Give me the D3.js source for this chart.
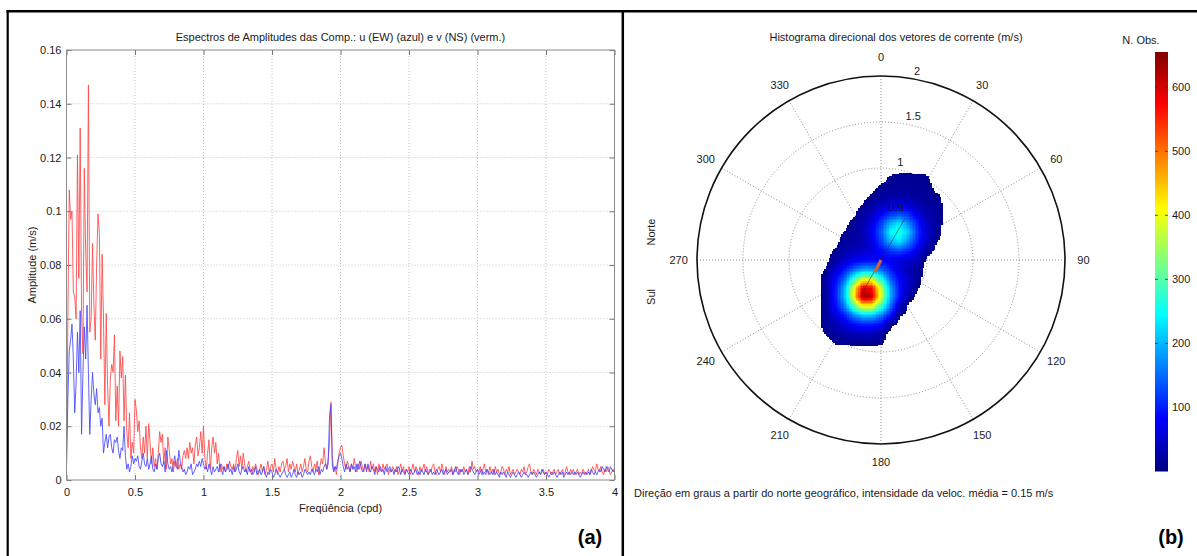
<!DOCTYPE html>
<html>
<head>
<meta charset="utf-8">
<script src="https://cdn.jsdelivr.net/npm/d3@7"></script>
<style>
  body { margin: 0; background: #fff; }
  svg { display: block; font-family: Arial, "Liberation Sans", Helvetica, sans-serif; }
</style>
</head>
<body>
<svg id="fig" width="1197" height="556"></svg>
<script>
// ---------- (a) amplitude spectra, 0.01 cpd resolution, amplitudes in mm/s ----------
const freqStep = 0.01;
const ampU = [ // u (EW) component, blue
  5, 30, 48, 52, 58, 45, 25, 36, 55, 40,
  63, 17, 40, 57, 45, 65, 40, 17, 30, 40,
  32, 28, 34, 25, 27, 20, 23, 10, 14, 17,
  12, 16, 17, 12, 10, 15, 14, 16, 11, 8,
  12, 11, 20, 9, 4, 6, 3, 5, 9, 6,
  8, 7, 9, 5, 4, 7, 10, 6, 5, 8,
  4, 6, 9, 4, 3, 6, 4, 8, 10, 6,
  5, 7, 3, 11, 6, 4, 5, 3, 6, 9,
  5, 4, 11, 7, 5, 3, 4, 2, 3, 5,
  4, 6, 2, 3, 4, 6, 5, 7, 5, 8,
  6, 4, 5, 3, 6, 4, 2, 5, 3, 4,
  5, 3, 6, 4, 2, 5, 3, 4, 6, 3,
  4, 2, 5, 3, 4, 6, 3, 2, 4, 5,
  3, 4, 2, 5, 3, 4, 2, 3, 5, 2,
  3, 4, 2, 3, 5, 2, 1, 3, 2, 4,
  3, 1, 2, 4, 3, 2, 1, 2, 3, 4,
  2, 1, 2, 3, 1, 2, 4, 2, 1, 3,
  2, 3, 1, 2, 4, 3, 2, 3, 2, 4,
  3, 2, 4, 3, 5, 2, 4, 3, 5, 6,
  4, 6, 24, 28, 6, 3, 5, 4, 7, 9,
  10, 8, 5, 3, 6, 4, 5, 3, 6, 4,
  5, 3, 6, 4, 7, 5, 3, 4, 6, 3,
  6, 4, 3, 5, 4, 2, 5, 4, 3, 5,
  3, 4, 2, 5, 3, 4, 5, 3, 4, 2,
  4, 3, 5, 4, 2, 4, 3, 2, 4, 3,
  2, 4, 3, 2, 3, 4, 2, 3, 2, 4,
  3, 2, 4, 3, 2, 3, 4, 2, 3, 2,
  4, 3, 2, 3, 4, 2, 3, 4, 2, 3,
  3, 4, 2, 3, 5, 3, 2, 4, 3, 4,
  2, 3, 4, 2, 3, 5, 4, 3, 2, 3,
  4, 2, 3, 4, 2, 3, 2, 4, 3, 2,
  3, 2, 4, 2, 3, 2, 1, 3, 2, 3,
  2, 1, 3, 2, 1, 2, 3, 2, 1, 2,
  3, 2, 1, 2, 3, 2, 2, 1, 2, 3,
  2, 3, 2, 1, 2, 3, 2, 4, 3, 2,
  3, 2, 1, 2, 3, 2, 3, 2, 1, 2,
  3, 2, 3, 1, 2, 3, 2, 3, 2, 3,
  2, 3, 2, 3, 2, 1, 2, 3, 2, 3,
  2, 3, 2, 4, 3, 2, 3, 2, 3, 4,
  3, 5, 4, 3, 5, 4, 3, 5, 4, 3,
  4
];
const ampV = [ // v (NS) component, red
  5, 60, 108, 97, 100, 70, 68, 60, 121, 75,
  131, 62, 47, 116, 85, 70, 147, 55, 60, 88,
  65, 52, 80, 99, 92, 45, 84, 60, 28, 62,
  35, 20, 38, 43, 40, 54, 22, 35, 20, 48,
  38, 46, 22, 39, 18, 12, 25, 8, 14, 10,
  30, 26, 18, 22, 12, 8, 16, 10, 20, 8,
  21, 14, 6, 12, 5, 8, 4, 10, 18, 14,
  17, 6, 12, 4, 16, 11, 6, 8, 3, 7,
  5, 8, 4, 6, 4, 9, 11, 8, 12, 8,
  14, 10, 12, 6, 13, 16, 9, 12, 18, 10,
  20, 8, 4, 10, 15, 4, 12, 16, 10, 14,
  6, 10, 3, 6, 4, 5, 3, 6, 4, 7,
  5, 4, 6, 3, 8, 11, 5, 9, 4, 10,
  6, 3, 5, 7, 4, 2, 5, 3, 6, 4,
  2, 4, 6, 3, 5, 2, 4, 7, 3, 5,
  6, 3, 8, 4, 2, 5, 3, 6, 7, 4,
  5, 8, 3, 6, 4, 7, 5, 3, 6, 2,
  4, 6, 3, 5, 8, 4, 3, 7, 9, 5,
  3, 6, 4, 7, 2, 5, 8, 6, 12, 7,
  4, 8, 14, 29, 9, 3, 5, 2, 6, 10,
  12, 13, 9, 6, 4, 7, 5, 3, 6, 4,
  8, 5, 3, 6, 4, 7, 5, 3, 6, 4,
  5, 3, 7, 4, 6, 3, 5, 2, 6, 4,
  3, 6, 4, 5, 6, 2, 4, 3, 5, 4,
  3, 5, 2, 4, 6, 3, 5, 2, 4, 3,
  5, 2, 4, 6, 3, 5, 4, 2, 5, 3,
  4, 6, 3, 5, 2, 4, 3, 5, 6, 3,
  2, 4, 5, 3, 6, 4, 2, 5, 3, 4,
  3, 5, 2, 4, 3, 5, 4, 2, 4, 3,
  5, 3, 4, 2, 5, 3, 7, 4, 5, 3,
  4, 3, 5, 2, 4, 6, 3, 4, 2, 5,
  3, 4, 2, 5, 3, 4, 2, 3, 5, 4,
  2, 4, 3, 5, 2, 3, 4, 2, 3, 4,
  3, 2, 4, 3, 5, 2, 3, 5, 6, 3,
  2, 4, 3, 2, 4, 3, 2, 3, 4, 2,
  3, 2, 4, 3, 2, 3, 4, 2, 3, 4,
  2, 3, 4, 2, 3, 5, 3, 2, 4, 3,
  4, 2, 3, 4, 2, 3, 2, 4, 3, 2,
  3, 4, 2, 3, 5, 4, 3, 6, 4, 3,
  5, 3, 2, 4, 3, 5, 4, 2, 3, 4,
  3
];
const xTicks = [0, 0.5, 1, 1.5, 2, 2.5, 3, 3.5, 4];
const xTickLabels = ["0", "0.5", "1", "1.5", "2", "2.5", "3", "3.5", "4"];
const yTicks = [0, 0.02, 0.04, 0.06, 0.08, 0.1, 0.12, 0.14, 0.16];
const yTickLabels = ["0", "0.02", "0.04", "0.06", "0.08", "0.1", "0.12", "0.14", "0.16"];

// ---------- (b) directional histogram: counts on a 0.1 m/s (u east, v north) node grid ----------
const nodeU = [-0.7, -0.6, -0.5, -0.4, -0.3, -0.2, -0.1, 0, 0.1, 0.2, 0.3, 0.4, 0.5, 0.6, 0.7];
const nodeV = [1.0, 0.9, 0.8, 0.7, 0.6, 0.5, 0.4, 0.3, 0.2, 0.1, 0, -0.1, -0.2, -0.3, -0.4, -0.5, -0.6, -0.7, -0.8, -0.9, -1.0];
const counts = [
  [0,0,0,0,0,0,0,0,0,0,0,0,0,0,0],
  [0,0,0,0,0,0,0,0,10,14,14,13,10,0,0],
  [0,0,0,0,0,0,0,10,16,16,16,15,16,0,0],
  [0,0,0,0,0,0,10,20,23,24,22,19,16,12,0],
  [0,0,0,0,0,9,23,35,52,58,48,32,20,20,0],
  [0,0,0,0,0,24,38,80,112,128,108,62,30,20,0],
  [0,0,0,0,16,28,62,120,195,232,165,98,42,20,0],
  [0,0,0,9,18,30,72,140,245,268,210,112,52,16,0],
  [0,0,0,20,22,32,62,120,195,232,165,98,42,9,0],
  [0,0,10,28,36,45,58,86,115,128,105,62,20,0,0],
  [0,0,22,46,66,82,85,80,72,62,50,36,0,0,0],
  [0,9,48,92,140,180,180,145,98,58,36,16,0,0,0],
  [0,18,78,140,260,360,355,255,140,82,44,13,0,0,0],
  [0,18,92,195,380,590,570,370,190,92,40,9,0,0,0],
  [0,18,95,200,395,640,610,385,195,92,20,0,0,0,0],
  [0,18,84,160,295,415,410,290,155,52,0,0,0,0,0],
  [0,16,58,98,165,210,210,160,95,9,0,0,0,0,0],
  [0,16,32,58,85,100,100,85,12,0,0,0,0,0,0],
  [0,9,20,27,35,40,40,20,0,0,0,0,0,0,0],
  [0,0,9,10,11,12,12,10,0,0,0,0,0,0,0],
  [0,0,0,0,0,0,0,0,0,0,0,0,0,0,0]
];
const minCount = 8;       // fewer observations than this are left blank
const angleTicks = [0, 30, 60, 90, 120, 150, 180, 210, 240, 270, 300, 330];
const ringTicks = [0.5, 1, 1.5, 2];
const ringLabels = ["0.5", "1", "1.5", "2"];
const countMax = 655;
const cbarTicks = [100, 200, 300, 400, 500, 600];
const meanSpeed = 0.15;   // m/s
const meanDir = 207;      // degrees from north
const mainAxis = { dir: 30, reachFwd: 0.52, reachBack: 0.42 };

// ---------- drawing ----------
const svg = d3.select("#fig");
svg.append("rect").attr("width", 1197).attr("height", 556).attr("fill", "#fff");
const txt = "#1a1a1a";

// panel frame
const frame = svg.append("g").attr("stroke", "#000").attr("fill", "none");
frame.append("line").attr("x1", 6.5).attr("x2", 1197).attr("y1", 11.3).attr("y2", 11.3).attr("stroke-width", 2.5);
frame.append("line").attr("x1", 7.7).attr("x2", 7.7).attr("y1", 10).attr("y2", 556).attr("stroke-width", 2.2);
frame.append("line").attr("x1", 622.8).attr("x2", 622.8).attr("y1", 10).attr("y2", 556).attr("stroke-width", 2.5);

// ===== panel (a) =====
const x = d3.scaleLinear().domain([0, 4]).range([66.5, 614.5]);
const y = d3.scaleLinear().domain([0, 0.16]).range([480, 50]);
const gA = svg.append("g");

gA.append("g").selectAll("line").data(xTicks.slice(1, -1)).join("line")
  .attr("x1", d => x(d)).attr("x2", d => x(d)).attr("y1", y(0)).attr("y2", y(0.16))
  .attr("stroke", "#b8b8b8").attr("stroke-width", 0.8).attr("stroke-dasharray", "1,2");
gA.append("g").selectAll("line").data(yTicks.slice(1, -1)).join("line")
  .attr("x1", x(0)).attr("x2", x(4)).attr("y1", d => y(d)).attr("y2", d => y(d))
  .attr("stroke", "#b8b8b8").attr("stroke-width", 0.8).attr("stroke-dasharray", "1,2");

gA.append("clipPath").attr("id", "plotA").append("rect")
  .attr("x", x(0)).attr("y", y(0.16)).attr("width", x(4) - x(0)).attr("height", y(0) - y(0.16));

const seriesV = ampV.map((a, i) => ({ f: i * freqStep, a: a / 1000 }));
const seriesU = ampU.map((a, i) => ({ f: i * freqStep, a: a / 1000 }));
const line = d3.line().x(d => x(d.f)).y(d => y(d.a));
gA.append("path").datum(seriesV).attr("d", line).attr("clip-path", "url(#plotA)")
  .attr("fill", "none").attr("stroke", "rgb(255,70,70)").attr("stroke-width", 1).attr("stroke-opacity", 0.85);
gA.append("path").datum(seriesU).attr("d", line).attr("clip-path", "url(#plotA)")
  .attr("fill", "none").attr("stroke", "rgb(70,70,255)").attr("stroke-width", 1).attr("stroke-opacity", 0.85);

function styleAxis(g) {
  g.select(".domain").remove();
  g.selectAll(".tick line").attr("stroke", "#777");
  g.selectAll(".tick text").attr("fill", txt).style("font-size", "11px")
    .style("font-family", "Arial, 'Liberation Sans', sans-serif");
}
gA.append("g").attr("transform", `translate(0,${y(0)})`)
  .call(d3.axisBottom(x).tickValues(xTicks).tickFormat((d, i) => xTickLabels[i]).tickSize(-5).tickPadding(8))
  .call(styleAxis);
gA.append("g").attr("transform", `translate(0,${y(0.16)})`)
  .call(d3.axisTop(x).tickValues(xTicks).tickFormat("").tickSize(-5))
  .call(styleAxis);
gA.append("g").attr("transform", `translate(${x(0)},0)`)
  .call(d3.axisLeft(y).tickValues(yTicks).tickFormat((d, i) => yTickLabels[i]).tickSize(-5).tickPadding(5))
  .call(styleAxis);
gA.append("g").attr("transform", `translate(${x(4)},0)`)
  .call(d3.axisRight(y).tickValues(yTicks).tickFormat("").tickSize(-5))
  .call(styleAxis);

gA.append("rect").attr("x", x(0)).attr("y", y(0.16)).attr("width", x(4) - x(0)).attr("height", y(0) - y(0.16))
  .attr("fill", "none").attr("stroke", "#8c8c8c").attr("stroke-width", 1);

gA.append("text").attr("x", (x(0) + x(4)) / 2).attr("y", 41).attr("text-anchor", "middle")
  .attr("font-size", 11).attr("fill", txt)
  .text("Espectros de Amplitudes das Comp.: u (EW) (azul) e v (NS) (verm.)");
gA.append("text").attr("x", (x(0) + x(4)) / 2).attr("y", 512).attr("text-anchor", "middle")
  .attr("font-size", 11).attr("fill", txt).text("Freqüência (cpd)");
gA.append("text").attr("transform", `translate(32,${(y(0) + y(0.16)) / 2}) rotate(-90)`)
  .attr("text-anchor", "middle").attr("dy", "0.35em").attr("font-size", 11).attr("fill", txt)
  .text("Amplitude (m/s)");
svg.append("text").attr("x", 590).attr("y", 544).attr("text-anchor", "middle")
  .attr("font-size", 20).attr("font-weight", "bold").attr("fill", "#000").text("(a)");

// ===== panel (b) =====
const cx = 881, cy = 260, R = 184;
const r = d3.scaleLinear().domain([0, 2]).range([0, R]);
const px = d3.scaleLinear().domain([-2, 2]).range([cx - R, cx + R]);
const py = d3.scaleLinear().domain([-2, 2]).range([cy + R, cy - R]);
const rad = a => a * Math.PI / 180;
const polarX = (s, a) => px(s * Math.sin(rad(a)));
const polarY = (s, a) => py(s * Math.cos(rad(a)));

function jet(t) {
  const c = v => Math.max(0, Math.min(1, v));
  const rr = c(1.5 - Math.abs(4 * t - 3)), gg = c(1.5 - Math.abs(4 * t - 2)), bb = c(1.5 - Math.abs(4 * t - 1));
  return d3.rgb(rr * 255, gg * 255, bb * 255).formatHex();
}
const color = d3.scaleSequential(jet).domain([0, countMax]);

const gB = svg.append("g");

// polar grid: rings and spokes
gB.append("g").selectAll("circle").data(ringTicks.slice(0, -1)).join("circle")
  .attr("cx", cx).attr("cy", cy).attr("r", d => r(d))
  .attr("fill", "none").attr("stroke", "#707070").attr("stroke-width", 0.8).attr("stroke-dasharray", "1,2");
gB.append("g").selectAll("line").data(angleTicks).join("line")
  .attr("x1", cx).attr("y1", cy).attr("x2", d => polarX(2, d)).attr("y2", d => polarY(2, d))
  .attr("stroke", "#707070").attr("stroke-width", 0.8).attr("stroke-dasharray", "1,2");

// histogram surface: each grid cell is shaded from its four corner counts
const sub = 6;
const cells = [];
for (let j = 0; j < nodeV.length - 1; j++) {
  for (let i = 0; i < nodeU.length - 1; i++) {
    const c00 = counts[j][i], c10 = counts[j][i + 1], c01 = counts[j + 1][i], c11 = counts[j + 1][i + 1];
    if (c00 + c10 + c01 + c11 === 0) continue;
    for (let b = 0; b < sub; b++) {
      for (let a = 0; a < sub; a++) {
        const s = (a + 0.5) / sub, t = (b + 0.5) / sub;
        const val = c00 * (1 - s) * (1 - t) + c10 * s * (1 - t) + c01 * (1 - s) * t + c11 * s * t;
        if (val < minCount) continue;
        const u0 = nodeU[i] + (nodeU[i + 1] - nodeU[i]) * a / sub;
        const u1 = nodeU[i] + (nodeU[i + 1] - nodeU[i]) * (a + 1) / sub;
        const v0 = nodeV[j] + (nodeV[j + 1] - nodeV[j]) * b / sub;
        const v1 = nodeV[j] + (nodeV[j + 1] - nodeV[j]) * (b + 1) / sub;
        cells.push({ u0, u1, v0, v1, val });
      }
    }
  }
}
gB.append("g").attr("shape-rendering", "crispEdges").selectAll("rect").data(cells).join("rect")
  .attr("x", d => px(d.u0)).attr("y", d => py(d.v0))
  .attr("width", d => px(d.u1) - px(d.u0) + 0.4).attr("height", d => py(d.v1) - py(d.v0) + 0.4)
  .attr("fill", d => color(d.val));

// principal axis and mean vector
gB.append("line")
  .attr("x1", polarX(mainAxis.reachBack, mainAxis.dir + 180)).attr("y1", polarY(mainAxis.reachBack, mainAxis.dir + 180))
  .attr("x2", polarX(mainAxis.reachFwd, mainAxis.dir)).attr("y2", polarY(mainAxis.reachFwd, mainAxis.dir))
  .attr("stroke", "#2a2a40").attr("stroke-width", 0.8).attr("stroke-opacity", 0.7);
gB.append("line")
  .attr("x1", cx).attr("y1", cy)
  .attr("x2", polarX(meanSpeed, meanDir)).attr("y2", polarY(meanSpeed, meanDir))
  .attr("stroke", "#c8643c").attr("stroke-width", 3.2);

// outer circle
gB.append("circle").attr("cx", cx).attr("cy", cy).attr("r", r(2))
  .attr("fill", "none").attr("stroke", "#111").attr("stroke-width", 1.6);

// labels
gB.append("g").selectAll("text").data(angleTicks).join("text")
  .attr("x", d => polarX(2.2, d)).attr("y", d => polarY(2.2, d))
  .attr("text-anchor", "middle").attr("dy", "0.35em").attr("font-size", 11).attr("fill", txt)
  .text(d => d);
gB.append("g").selectAll("text").data(ringTicks).join("text")
  .attr("x", d => cx + (r(d) + 8) * Math.sin(rad(10.5)) - 2)
  .attr("y", d => cy - (r(d) + 8) * Math.cos(rad(10.5)))
  .attr("text-anchor", "start").attr("dy", "0.35em").attr("font-size", 11).attr("fill", txt)
  .text((d, i) => ringLabels[i]);

gB.append("text").attr("x", 896).attr("y", 41).attr("text-anchor", "middle")
  .attr("font-size", 11).attr("fill", txt).text("Histograma direcional dos vetores de corrente (m/s)");
gB.append("text").attr("transform", "translate(651,232) rotate(-90)").attr("text-anchor", "middle")
  .attr("dy", "0.35em").attr("font-size", 11).attr("fill", txt).text("Norte");
gB.append("text").attr("transform", "translate(651,297) rotate(-90)").attr("text-anchor", "middle")
  .attr("dy", "0.35em").attr("font-size", 11).attr("fill", txt).text("Sul");
gB.append("text").attr("x", 634).attr("y", 497).attr("font-size", 11).attr("fill", txt)
  .text("Direção em graus a partir do norte geográfico, intensidade da veloc. média = 0.15 m/s");

// colorbar
const cb = d3.scaleLinear().domain([0, countMax]).range([471.5, 52]);
const cbX = 1155, cbW = 13;
const defs = svg.append("defs");
const grad = defs.append("linearGradient").attr("id", "jetGrad").attr("x1", 0).attr("x2", 0).attr("y1", 1).attr("y2", 0);
grad.selectAll("stop").data(d3.range(0, 1.0001, 1 / 64)).join("stop")
  .attr("offset", d => d).attr("stop-color", d => color(d * countMax));
gB.append("rect").attr("x", cbX).attr("y", cb(countMax)).attr("width", cbW).attr("height", cb(0) - cb(countMax))
  .attr("fill", "url(#jetGrad)");
gB.append("g").selectAll("path").data(cbarTicks).join("path")
  .attr("d", d => `M${cbX},${cb(d)}h3M${cbX + cbW},${cb(d)}h-3`)
  .attr("stroke", "#333").attr("stroke-width", 0.8);
gB.append("g").selectAll("text").data(cbarTicks).join("text")
  .attr("x", cbX + cbW + 4).attr("y", d => cb(d)).attr("dy", "0.35em")
  .attr("font-size", 11).attr("fill", txt).text(d => d);
gB.append("text").attr("x", 1141).attr("y", 44).attr("text-anchor", "middle")
  .attr("font-size", 11).attr("fill", txt).text("N. Obs.");

svg.append("text").attr("x", 1171).attr("y", 544).attr("text-anchor", "middle")
  .attr("font-size", 20).attr("font-weight", "bold").attr("fill", "#000").text("(b)");
</script>
</body>
</html>
